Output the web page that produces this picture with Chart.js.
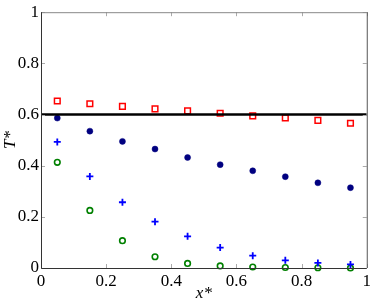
<!DOCTYPE html>
<html>
<head>
<meta charset="utf-8">
<script src="https://cdn.jsdelivr.net/npm/chart.js@4/dist/chart.umd.min.js"></script>
<style>
  html, body { margin: 0; padding: 0; background: #fff; }
  #wrap { width: 374px; height: 304px; }
</style>
</head>
<body>
<div id="wrap"><canvas id="grafico"></canvas></div>
<script>
// positions along x*
var posX = [0.05, 0.15, 0.25, 0.35, 0.45, 0.55, 0.65, 0.75, 0.85, 0.95];
// T* values
var quadrados = [0.653, 0.642, 0.632, 0.622, 0.614, 0.605, 0.595, 0.587, 0.577, 0.566];
var pontos    = [0.586, 0.535, 0.495, 0.465, 0.432, 0.404, 0.380, 0.357, 0.333, 0.314];
var cruzes    = [0.493, 0.358, 0.257, 0.181, 0.124, 0.080, 0.048, 0.030, 0.020, 0.014];
var circulos  = [0.413, 0.225, 0.107, 0.044, 0.018, 0.008, 0.004, 0.002, 0.001, 0.000];
var linhaX = [0, 1];
var linhaY = [0.6, 0.6];
var ticksVal = [0, 0.2, 0.4, 0.6, 0.8, 1];
var ticksTxt = ['0', '0.2', '0.4', '0.6', '0.8', '1'];

function pares(xs, ys) {
    var r = [];
    for (var i = 0; i < xs.length; i++) {
        r.push({x: xs[i], y: ys[i]});
    }
    return r;
}

function rotulo(valor) {
    var i = ticksVal.indexOf(Math.round(valor * 10) / 10);
    return i >= 0 ? ticksTxt[i] : '';
}

// box + inward ticks like the matlab figure
var caixa = {
    id: 'caixa',
    afterDatasetsDraw: function (chart) {
        var ctx = chart.ctx, a = chart.chartArea,
            sx = chart.scales.x, sy = chart.scales.y;
        ctx.save();
        ctx.lineWidth = 1;
        ctx.strokeStyle = '#aaaaaa';
        ticksVal.forEach(function (v) {
            var px = Math.round(sx.getPixelForValue(v)) + 0.5;
            var py = Math.round(sy.getPixelForValue(v)) + 0.5;
            ctx.beginPath();
            ctx.moveTo(px, a.bottom); ctx.lineTo(px, a.bottom - 4);
            ctx.moveTo(px, a.top); ctx.lineTo(px, a.top + 4);
            ctx.moveTo(a.left, py); ctx.lineTo(a.left + 4, py);
            ctx.moveTo(a.right, py); ctx.lineTo(a.right - 4, py);
            ctx.stroke();
        });
        ctx.strokeStyle = '#888888';
        ctx.beginPath();
        ctx.moveTo(a.left, a.top + 0.5); ctx.lineTo(a.right, a.top + 0.5);
        ctx.stroke();
        ctx.strokeStyle = '#555555';
        ctx.beginPath();
        ctx.moveTo(a.right + 0.5, a.top); ctx.lineTo(a.right + 0.5, a.bottom);
        ctx.stroke();
        ctx.strokeStyle = '#333333';
        ctx.beginPath();
        ctx.moveTo(a.left + 0.5, a.top); ctx.lineTo(a.left + 0.5, a.bottom + 0.5);
        ctx.lineTo(a.right, a.bottom + 0.5);
        ctx.stroke();
        ctx.restore();
    }
};

var fonte = {family: '"Liberation Serif", serif', size: 17};

var config = {
    type: 'scatter',
    data: {
        datasets: [{
            type: 'line',
            label: 'linha',
            data: pares(linhaX, linhaY),
            borderColor: '#000000',
            borderWidth: 2.5,
            pointRadius: 0,
            fill: false,
            order: 0
        }, {
            label: 'quadrados',
            data: pares(posX, quadrados),
            pointStyle: 'rect',
            pointRadius: 4,
            borderColor: '#ff0000',
            backgroundColor: 'rgba(0,0,0,0)',
            borderWidth: 1.5,
            clip: false,
            order: 1
        }, {
            label: 'pontos',
            data: pares(posX, pontos),
            pointStyle: 'circle',
            pointRadius: 3,
            borderColor: '#000080',
            backgroundColor: '#000080',
            borderWidth: 0.5,
            clip: false,
            order: 2
        }, {
            label: 'cruzes',
            data: pares(posX, cruzes),
            pointStyle: 'cross',
            pointRadius: 3.5,
            borderColor: '#0000ff',
            borderWidth: 1.8,
            clip: false,
            order: 3
        }, {
            label: 'circulos',
            data: pares(posX, circulos),
            pointStyle: 'circle',
            pointRadius: 2.8,
            borderColor: '#008000',
            backgroundColor: 'rgba(0,0,0,0)',
            borderWidth: 1.6,
            clip: false,
            order: 4
        }]
    },
    options: {
        responsive: true,
        maintainAspectRatio: false,
        animation: false,
        events: [],
        layout: {padding: {top: 12, right: 7, left: 0, bottom: 0}},
        plugins: {
            legend: {display: false},
            tooltip: {enabled: false}
        },
        scales: {
            x: {
                type: 'linear',
                min: 0,
                max: 1,
                afterFit: function (s) { s.height = 36; },
                afterBuildTicks: function (s) {
                    s.ticks = ticksVal.map(function (v) { return {value: v}; });
                },
                grid: {display: false, drawTicks: false},
                border: {display: false},
                ticks: {color: '#000', font: fonte, padding: 3, maxRotation: 0, callback: rotulo},
                title: {
                    display: true,
                    text: 'x*',
                    color: '#000',
                    font: {family: fonte.family, size: 17, style: 'italic'},
                    padding: {top: 0, bottom: 0}
                }
            },
            y: {
                type: 'linear',
                min: 0,
                max: 1,
                afterFit: function (s) { s.width = 41; },
                afterBuildTicks: function (s) {
                    s.ticks = ticksVal.map(function (v) { return {value: v}; });
                },
                grid: {display: false, drawTicks: false},
                border: {display: false},
                ticks: {color: '#000', font: fonte, padding: 2, callback: rotulo},
                title: {
                    display: true,
                    text: 'T*',
                    color: '#000',
                    font: {family: fonte.family, size: 17, style: 'italic'},
                    padding: {top: 0, bottom: 0}
                }
            }
        }
    },
    plugins: [caixa]
};

new Chart(document.getElementById('grafico').getContext('2d'), config);
</script>
</body>
</html>
